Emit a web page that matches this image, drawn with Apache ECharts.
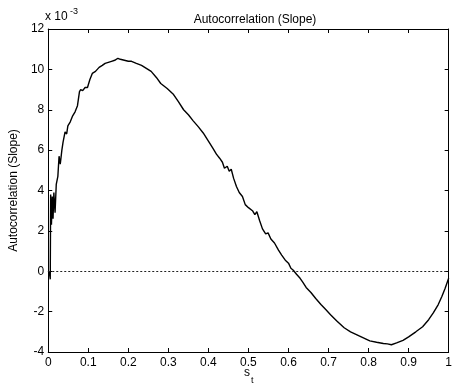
<!DOCTYPE html>
<html><head><meta charset="utf-8">
<script src="https://cdn.jsdelivr.net/npm/echarts@6/dist/echarts.min.js"></script>
<style>html,body{margin:0;padding:0;background:#fff}#c{width:455px;height:388px}</style>
</head><body><div id="c"></div>
<script>
const xValues = [0,0.003,0.005,0.006,0.008,0.010,0.012,0.014,0.017,0.020,0.024,0.027,0.030,0.034,0.037,0.042,0.046,0.049,0.055,0.061,0.067,0.073,0.078,0.081,0.086,0.092,0.098,0.104,0.11,0.118,0.127,0.135,0.142,0.15,0.158,0.166,0.174,0.18,0.19,0.2,0.208,0.22,0.233,0.245,0.257,0.27,0.281,0.297,0.313,0.325,0.338,0.35,0.362,0.375,0.387,0.4,0.411,0.42,0.428,0.435,0.44,0.447,0.452,0.457,0.463,0.47,0.477,0.485,0.492,0.5,0.51,0.516,0.521,0.528,0.535,0.543,0.549,0.556,0.565,0.575,0.583,0.592,0.6,0.606,0.612,0.62,0.629,0.636,0.644,0.656,0.668,0.681,0.693,0.705,0.72,0.739,0.755,0.771,0.787,0.803,0.82,0.837,0.847,0.857,0.87,0.886,0.9,0.918,0.935,0.95,0.962,0.974,0.983,0.991,1.0];
const yValues = [0,-0.1,-0.4,3.8,2.3,3.7,2.6,3.9,2.9,4.3,4.7,5.7,5.3,6.0,6.4,6.9,6.8,7.2,7.4,7.7,7.9,8.2,8.9,9.0,8.95,9.1,9.1,9.5,9.8,9.9,10.1,10.2,10.3,10.35,10.4,10.45,10.55,10.5,10.45,10.4,10.4,10.3,10.2,10.05,9.9,9.6,9.3,9.05,8.75,8.4,8.0,7.75,7.45,7.15,6.85,6.45,6.1,5.8,5.6,5.4,5.1,5.2,4.95,5.05,4.6,4.2,3.9,3.7,3.3,3.15,3.0,2.8,2.95,2.5,2.1,1.85,1.9,1.6,1.4,1.05,0.8,0.55,0.4,0.15,0.05,-0.15,-0.35,-0.55,-0.8,-1.05,-1.35,-1.65,-1.9,-2.15,-2.45,-2.8,-3.0,-3.15,-3.3,-3.45,-3.52,-3.58,-3.6,-3.64,-3.55,-3.42,-3.25,-3.0,-2.75,-2.4,-2.05,-1.65,-1.25,-0.85,-0.35];
const xTicks = [0,0.1,0.2,0.3,0.4,0.5,0.6,0.7,0.8,0.9,1];
const yTicks = [-4,-2,0,2,4,6,8,10,12];
const titleText = 'Autocorrelation (Slope)';
const yName = 'Autocorrelation (Slope)';

const FONT = 'Liberation Sans, Arial, sans-serif';
const chart = echarts.init(document.getElementById('c'), null, {renderer:'canvas'});
const data = xValues.map((x,i)=>[x, yValues[i]]);
const axisCommon = {
  axisLine:{show:true, onZero:false, lineStyle:{color:'#000', width:1}},
  axisTick:{show:true, inside:true, length:4, lineStyle:{color:'#000'}},
  splitLine:{show:false}
};
chart.setOption({
  animation:false,
  title:{text:titleText, left:250, top:9, textAlign:'center', textStyle:{fontFamily:FONT, fontSize:12, fontWeight:'normal', color:'#000'}},
  grid:{left:45, right:1, top:29, bottom:36, containLabel:false},
  xAxis:[
    Object.assign({type:'value', min:0, max:1, interval:0.1, position:'bottom',
      axisLabel:{fontFamily:FONT, fontSize:12, color:'#000', margin:5, formatter:v=>String(+v.toFixed(1))}}, axisCommon),
    Object.assign({type:'value', min:0, max:1, interval:0.1, position:'top', axisLabel:{show:false}}, axisCommon)
  ],
  yAxis:[
    Object.assign({type:'value', min:-4, max:12, interval:2, position:'left',
      name:yName, nameLocation:'middle', nameGap:24, nameRotate:90,
      nameTextStyle:{fontFamily:FONT, fontSize:12, color:'#000'},
      axisLabel:{fontFamily:FONT, fontSize:12, color:'#000', margin:4}}, axisCommon),
    Object.assign({type:'value', min:-4, max:12, interval:2, position:'right', axisLabel:{show:false}}, axisCommon)
  ],
  graphic:[
    {type:'text', left:45, top:11, style:{text:'x 10', font:'12px '+FONT, fill:'#000'}},
    {type:'text', left:70, top:7, style:{text:'-3', font:'9px '+FONT, fill:'#000'}},
    {type:'text', left:244, top:367, style:{text:'s', font:'12px '+FONT, fill:'#000'}},
    {type:'text', left:251, top:376, style:{text:'t', font:'9px '+FONT, fill:'#000'}}
  ],
  series:[{
    type:'line', data:data, showSymbol:false, symbol:'none',
    lineStyle:{color:'#000', width:1.4},
    markLine:{silent:true, symbol:['none','none'], label:{show:false},
      lineStyle:{color:'#222', type:[2,2], width:1},
      data:[{yAxis:0}]}
  }]
});
</script></body></html>
